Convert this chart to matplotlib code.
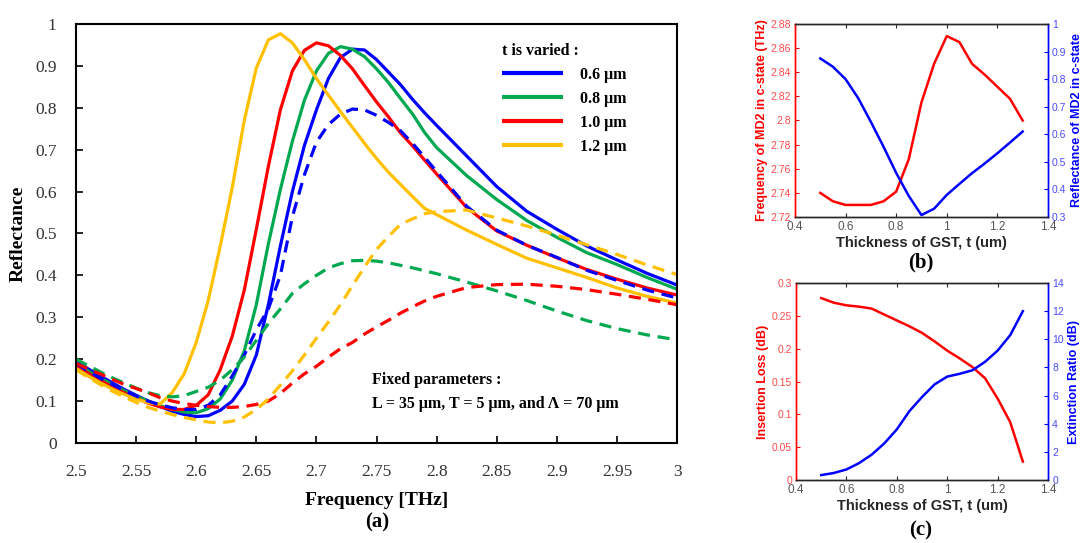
import numpy as np
import matplotlib
matplotlib.use('Agg')
import matplotlib.pyplot as plt
from matplotlib.ticker import FuncFormatter

# ---- panel (a): reflectance spectra ----
freq = [2.50, 2.51, 2.52, 2.53, 2.54, 2.55, 2.56, 2.57, 2.58, 2.59,
        2.60, 2.61, 2.62, 2.63, 2.64, 2.65, 2.66, 2.67, 2.68, 2.69,
        2.70, 2.71, 2.72, 2.73, 2.74, 2.75, 2.76, 2.77, 2.78, 2.79,
        2.80, 2.825, 2.85, 2.875, 2.90, 2.925, 2.95, 2.975, 3.00]

# solid curves (a-state)
refl_06 = [0.195, 0.177, 0.160, 0.144, 0.128, 0.114, 0.100, 0.087, 0.076, 0.068,
           0.063, 0.065, 0.078, 0.100, 0.140, 0.210, 0.330, 0.470, 0.600, 0.710,
           0.795, 0.870, 0.920, 0.940, 0.938, 0.915, 0.885, 0.855, 0.820, 0.788,
           0.758, 0.685, 0.612, 0.553, 0.510, 0.470, 0.437, 0.405, 0.377]
refl_08 = [0.190, 0.172, 0.155, 0.140, 0.125, 0.112, 0.100, 0.089, 0.080, 0.074,
           0.072, 0.082, 0.105, 0.150, 0.220, 0.330, 0.475, 0.605, 0.720, 0.818,
           0.888, 0.930, 0.946, 0.940, 0.922, 0.893, 0.860, 0.822, 0.785, 0.741,
           0.705, 0.638, 0.581, 0.531, 0.491, 0.454, 0.426, 0.395, 0.367]
refl_10 = [0.185, 0.167, 0.150, 0.134, 0.120, 0.107, 0.095, 0.086, 0.080, 0.080,
           0.090, 0.115, 0.175, 0.255, 0.365, 0.510, 0.660, 0.795, 0.888, 0.937,
           0.955, 0.948, 0.925, 0.893, 0.853, 0.814, 0.778, 0.740, 0.709, 0.675,
           0.642, 0.562, 0.506, 0.472, 0.442, 0.414, 0.391, 0.370, 0.353]
refl_12 = [0.178, 0.160, 0.144, 0.129, 0.116, 0.105, 0.096, 0.093, 0.120, 0.165,
           0.240, 0.340, 0.470, 0.610, 0.770, 0.895, 0.962, 0.977, 0.955, 0.915,
           0.870, 0.830, 0.791, 0.753, 0.715, 0.679, 0.646, 0.617, 0.588, 0.560,
           0.545, 0.508, 0.474, 0.441, 0.418, 0.395, 0.370, 0.350, 0.334]

# dashed curves (c-state)
refl_06_c = [0.190, 0.172, 0.155, 0.140, 0.125, 0.112, 0.100, 0.091, 0.084, 0.080,
             0.080, 0.090, 0.115, 0.160, 0.210, 0.270, 0.320, 0.400, 0.540, 0.640,
             0.718, 0.760, 0.785, 0.797, 0.795, 0.782, 0.765, 0.745, 0.715, 0.682,
             0.648, 0.565, 0.508, 0.472, 0.443, 0.412, 0.388, 0.365, 0.346]
refl_08_c = [0.200, 0.185, 0.170, 0.156, 0.143, 0.131, 0.120, 0.113, 0.110, 0.113,
             0.123, 0.133, 0.150, 0.175, 0.205, 0.245, 0.285, 0.320, 0.357, 0.380,
             0.400, 0.418, 0.428, 0.435, 0.436, 0.434, 0.430, 0.424, 0.418, 0.411,
             0.404, 0.384, 0.363, 0.340, 0.315, 0.292, 0.273, 0.258, 0.246]
refl_10_c = [0.190, 0.177, 0.165, 0.152, 0.140, 0.130, 0.120, 0.108, 0.100, 0.094,
             0.090, 0.087, 0.085, 0.085, 0.087, 0.092, 0.100, 0.118, 0.143, 0.165,
             0.183, 0.205, 0.225, 0.240, 0.260, 0.277, 0.293, 0.310, 0.325, 0.339,
             0.350, 0.371, 0.378, 0.379, 0.374, 0.366, 0.355, 0.343, 0.330]
refl_12_c = [0.175, 0.157, 0.140, 0.124, 0.110, 0.097, 0.085, 0.076, 0.068, 0.061,
             0.055, 0.050, 0.048, 0.052, 0.062, 0.080, 0.105, 0.138, 0.172, 0.210,
             0.250, 0.289, 0.330, 0.376, 0.420, 0.462, 0.493, 0.522, 0.535, 0.547,
             0.552, 0.556, 0.537, 0.518, 0.496, 0.473, 0.450, 0.425, 0.402]

thick_labels = ['0.6 μm', '0.8 μm', '1.0 μm', '1.2 μm']
colors = ['#0000ff', '#00a84f', '#ff0000', '#ffc000']

# ---- panels (b) and (c) ----
thick = [0.5, 0.55, 0.6, 0.65, 0.7, 0.75, 0.8, 0.85, 0.9,
         0.95, 1.0, 1.05, 1.1, 1.15, 1.2, 1.25, 1.3]
md2_freq = [2.740, 2.733, 2.730, 2.730, 2.730, 2.733, 2.741, 2.768, 2.815,
            2.847, 2.870, 2.865, 2.847, 2.838, 2.828, 2.818, 2.800]
md2_refl = [0.875, 0.845, 0.800, 0.731, 0.645, 0.555, 0.460, 0.376, 0.307,
            0.330, 0.380, 0.420, 0.459, 0.494, 0.531, 0.570, 0.610]
ins_loss = [0.277, 0.270, 0.266, 0.264, 0.261, 0.252, 0.243, 0.234, 0.224,
            0.211, 0.197, 0.185, 0.172, 0.155, 0.124, 0.088, 0.028]
ext_ratio = [0.35, 0.50, 0.75, 1.20, 1.80, 2.60, 3.60, 4.90, 5.90,
             6.80, 7.35, 7.55, 7.80, 8.40, 9.20, 10.30, 12.00]

SERIF = 'Liberation Serif'
SANS = 'Liberation Sans'

fig = plt.figure(figsize=(10.89, 5.43), dpi=100)

# ======== (a) ========
ax = fig.add_axes([0.0698, 0.1842, 0.5519, 0.7716])
solid_lines = []
for ys, c in zip([refl_06, refl_08, refl_10, refl_12], colors):
    ln, = ax.plot(freq, ys, color=c, lw=2.3, solid_capstyle='butt')
    solid_lines.append(ln)
for ys, c in zip([refl_06_c, refl_08_c, refl_10_c, refl_12_c], colors):
    ax.plot(freq, ys, color=c, lw=2.3, dashes=(3.8, 2.4))

ax.set_xlim(2.5, 3.0)
ax.set_ylim(0, 1)
ax.set_xticks(np.arange(2.5, 3.001, 0.05))
ax.set_yticks(np.arange(0, 1.001, 0.1))
fmt = FuncFormatter(lambda v, p: '%g' % round(v, 3))
ax.xaxis.set_major_formatter(fmt)
ax.yaxis.set_major_formatter(fmt)
ax.tick_params(direction='in', length=5, width=1.2, labelsize=12.5)
ax.tick_params(axis='x', pad=15)
ax.tick_params(axis='y', pad=14)
for lab in ax.get_xticklabels() + ax.get_yticklabels():
    lab.set_fontfamily(SERIF)
    lab.set_color('#333333')
for sp in ax.spines.values():
    sp.set_linewidth(1.5)
ax.set_xlabel('Frequency [THz]', fontfamily=SERIF, fontweight='bold', fontsize=14, labelpad=9)
ax.set_ylabel('Reflectance', fontfamily=SERIF, fontweight='bold', fontsize=14, labelpad=6)

leg = ax.legend(handles=solid_lines, labels=thick_labels, title='t is varied :',
                loc='upper left', bbox_to_anchor=(0.709, 0.955), frameon=False,
                prop={'family': SERIF, 'weight': 'bold', 'size': 11.5},
                title_fontproperties={'family': SERIF, 'weight': 'bold', 'size': 11.5},
                handlelength=3.8, handletextpad=1.1, labelspacing=0.5,
                borderpad=0, borderaxespad=0, alignment='left')
for ln in leg.get_lines():
    ln.set_linewidth(3.0)

ax.text(0.4925, 0.150, 'Fixed parameters :', transform=ax.transAxes,
        fontfamily=SERIF, fontweight='bold', fontsize=11.5, va='center')
ax.text(0.4925, 0.093, 'L = 35 μm, T = 5 μm, and Λ = 70 μm', transform=ax.transAxes,
        fontfamily=SERIF, fontsize=11.5, fontweight='bold', va='center')
fig.text(377 / 1089, 1 - 522 / 543, '(a)', fontfamily=SERIF, fontsize=15,
         fontweight='bold', ha='center', va='center')

RED = '#ff0000'
BLUE = '#0000ff'
GRAY = '#262626'


def style_twin(axl, axr, xlabel, ylab_l, ylab_r):
    for a in (axl, axr):
        a.spines['top'].set_color(GRAY)
        a.spines['bottom'].set_color(GRAY)
        a.spines['left'].set_color(RED)
        a.spines['right'].set_color(BLUE)
        for sp in a.spines.values():
            sp.set_linewidth(1.0)
    axl.set_xlim(0.4, 1.4)
    axl.set_xticks([0.4, 0.6, 0.8, 1.0, 1.2, 1.4])
    axl.xaxis.set_major_formatter(fmt)
    axl.tick_params(axis='x', direction='in', top=True, length=3, labelsize=8.5,
                    colors=GRAY, labelcolor='#555555', pad=3)
    axl.tick_params(axis='y', direction='in', length=3, labelsize=7.5, colors=RED,
                    labelcolor='#ff4a4a', pad=3)
    axr.tick_params(axis='y', direction='in', length=3, labelsize=7.5, colors=BLUE,
                    labelcolor='#4a4aff', pad=3)
    for lab in axl.get_xticklabels() + axl.get_yticklabels() + axr.get_yticklabels():
        lab.set_fontfamily(SANS)
    axl.set_xlabel(xlabel, fontfamily=SANS, fontweight='bold', fontsize=10.5,
                   color=GRAY, labelpad=2)
    axl.set_ylabel(ylab_l, fontfamily=SANS, fontweight='bold', fontsize=9, color=RED,
                   labelpad=2)
    axr.set_ylabel(ylab_r, fontfamily=SANS, fontweight='bold', fontsize=9, color=BLUE,
                   labelpad=3)


# ======== (b) ========
axb = fig.add_axes([0.730, 0.6004, 0.2323, 0.3554])
axb.plot(thick, md2_freq, color=RED, lw=1.8)
axb.set_ylim(2.72, 2.88)
axb.set_yticks(np.arange(2.72, 2.881, 0.02))
axb.yaxis.set_major_formatter(fmt)
axb2 = axb.twinx()
axb2.plot(thick, md2_refl, color=BLUE, lw=1.8)
axb2.set_ylim(0.3, 1.0)
axb2.set_yticks(np.arange(0.3, 1.001, 0.1))
axb2.yaxis.set_major_formatter(fmt)
style_twin(axb, axb2, 'Thickness of GST, t (um)',
           'Frequency of MD2 in c-state (THz)', 'Reflectance of MD2 in c-state')
fig.text(921 / 1089, 1 - 262 / 543, '(b)', fontfamily=SERIF, fontsize=15,
         fontweight='bold', ha='center', va='center')

# ======== (c) ========
axc = fig.add_axes([0.731, 0.116, 0.2314, 0.3628])
axc.plot(thick, ins_loss, color=RED, lw=1.8)
axc.set_ylim(0, 0.3)
axc.set_yticks(np.arange(0, 0.301, 0.05))
axc.yaxis.set_major_formatter(fmt)
axc2 = axc.twinx()
axc2.plot(thick, ext_ratio, color=BLUE, lw=1.8)
axc2.set_ylim(0, 14)
axc2.set_yticks(np.arange(0, 14.1, 2))
axc2.yaxis.set_major_formatter(fmt)
style_twin(axc, axc2, 'Thickness of GST, t (um)',
           'Insertion Loss (dB)', 'Extinction Ratio (dB)')
fig.text(921 / 1089, 1 - 530 / 543, '(c)', fontfamily=SERIF, fontsize=15,
         fontweight='bold', ha='center', va='center')

fig.savefig('out.png', dpi=100)
